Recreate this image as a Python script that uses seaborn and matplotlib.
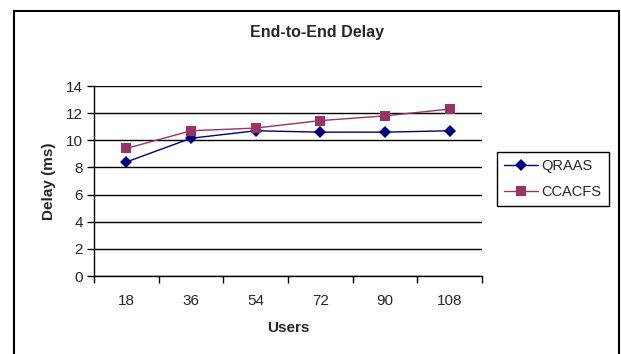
import seaborn as sns
import matplotlib.pyplot as plt
import matplotlib.patches as mpatches
import pandas as pd
import numpy as np

sns.set_style('white')
plt.rcParams['font.family'] = ['Liberation Sans', 'DejaVu Sans']

# data
users = ['18', '36', '54', '72', '90', '108']
qraas = [8.4, 10.15, 10.7, 10.6, 10.6, 10.7]
ccacfs = [9.4, 10.7, 10.9, 11.45, 11.8, 12.3]

pos = np.arange(len(users))
df = pd.DataFrame({
    'pos': np.concatenate([pos, pos]),
    'delay': qraas + ccacfs,
    'series': ['QRAAS'] * len(users) + ['CCACFS'] * len(users),
})

W, H = 621, 354
fig = plt.figure(figsize=(W / 100, H / 100), dpi=100)
ax = fig.add_axes([94 / W, 1 - 276 / H, 388 / W, 190 / H])

sns.lineplot(data=df, x='pos', y='delay', hue='series', style='series',
             palette={'QRAAS': '#000080', 'CCACFS': '#993366'},
             markers={'QRAAS': 'D', 'CCACFS': 's'}, dashes=False,
             markersize=6.5, linewidth=1, markeredgewidth=0, ax=ax)

ax.set_ylim(0, 14)
ax.set_yticks(np.arange(0, 15, 2))
ax.yaxis.grid(True, color='black', linewidth=1)
ax.set_axisbelow(True)
ax.set_xlim(-0.5, len(users) - 0.5)
ax.set_xticks(np.arange(-0.5, len(users)), labels=[''] * (len(users) + 1))
ax.set_xticks(pos, labels=users, minor=True)
ax.tick_params(axis='x', which='major', direction='out', length=5, width=1, color='black')
ax.tick_params(axis='x', which='minor', length=0, pad=13, labelsize=11)
ax.tick_params(axis='y', direction='out', length=5, width=1, color='black', labelsize=11, pad=3)
ax.tick_params(left=True, bottom=True)
for s in ['top', 'right']:
    ax.spines[s].set_visible(False)
for s in ['left', 'bottom']:
    ax.spines[s].set_color('black')
    ax.spines[s].set_linewidth(1)

ax.set_xlabel('Users', fontweight='bold', fontsize=11, labelpad=9)
ax.set_ylabel('Delay (ms)', fontweight='bold', fontsize=11, labelpad=7)

fig.text(317 / W, 1 - 33 / H, 'End-to-End Delay', ha='center', va='center',
         fontweight='bold', fontsize=11.5)

leg = ax.legend(loc='center left', bbox_to_anchor=(497 / W, 1 - 179 / H),
                bbox_transform=fig.transFigure, fancybox=False, framealpha=1,
                edgecolor='black', fontsize=10.5, title=None, handlelength=2.3,
                borderpad=0.5, labelspacing=0.8, handletextpad=0.25,
                borderaxespad=0)
leg.get_frame().set_linewidth(1)

fig.patches.append(mpatches.Rectangle((13.5 / W, -0.05), (619 - 13.5) / W, 1.05 - 11 / H,
                                      transform=fig.transFigure, fill=False,
                                      edgecolor='black', linewidth=1.5))

fig.savefig('out.png', dpi=100)
